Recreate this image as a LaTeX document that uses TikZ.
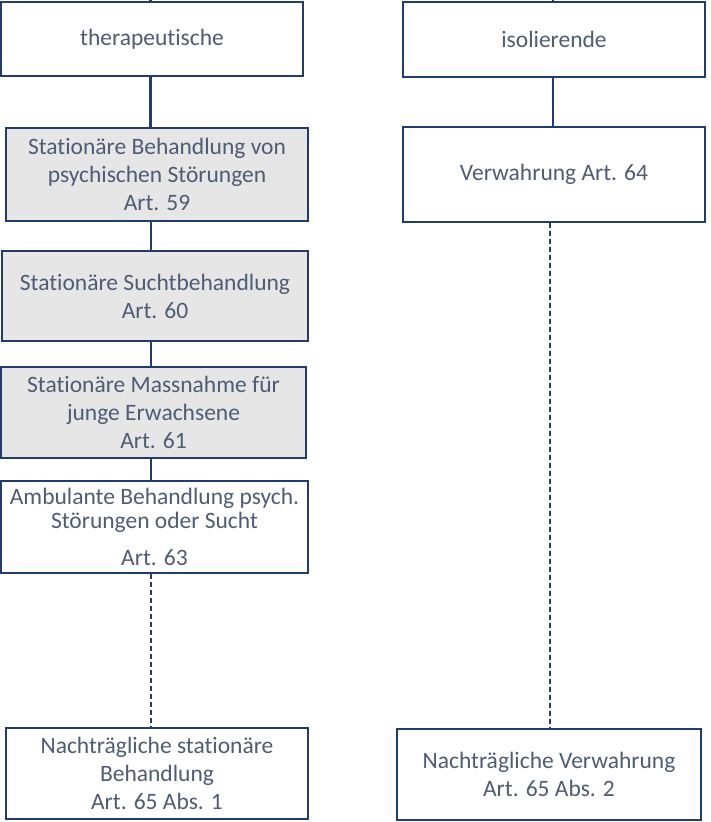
\documentclass[tikz,border=0pt]{standalone}
\usepackage{fontspec}
\setmainfont{Carlito}[Ligatures=NoCommon]
\definecolor{edge}{HTML}{223D6B}
\definecolor{txt}{HTML}{4E5C74}
\definecolor{shade}{HTML}{E6E6E6}
\begin{document}
\begin{tikzpicture}[x=1pt,y=-1pt,
  box/.style={draw=edge,line width=2.4pt,fill=white,text=txt,align=center,
    inner sep=0pt,font=\fontsize{23.5}{28}\selectfont},
  grey/.style={box,fill=shade},
  link/.style={draw=edge,line width=2.4pt},
  dlink/.style={draw=edge,line width=2.4pt,dash pattern=on 5pt off 3pt}]
\useasboundingbox (0,0) rectangle (710,822);
% left column
\node[box,minimum width=302pt,minimum height=74pt] (th) at (152,39) {therapeutische};
\node[grey,minimum width=302pt,minimum height=93pt] (b59) at (157,174.5) {Stationäre Behandlung von\\psychischen Störungen\\Art. 59};
\node[grey,minimum width=306pt,minimum height=90pt] (b60) at (155,296) {Stationäre Suchtbehandlung\\Art. 60};
\node[grey,minimum width=305pt,minimum height=91pt] (b61) at (153.5,412.5) {Stationäre Massnahme für\\junge Erwachsene\\Art. 61};
\node[box,minimum width=307pt,minimum height=92pt] (b63) at (154.5,527) {Ambulante Behandlung psych.\\[-4pt]Störungen oder Sucht\\[9pt]Art. 63};
\node[box,minimum width=302pt,minimum height=91pt] (b651) at (157,773.5) {Nachträgliche stationäre\\Behandlung\\Art. 65 Abs. 1};
% right column
\node[box,minimum width=302pt,minimum height=75pt] (iso) at (554,39.5) {isolierende};
\node[box,minimum width=302pt,minimum height=95pt] (v64) at (554,174.5) {Verwahrung Art. 64};
\node[box,minimum width=304pt,minimum height=91pt] (b652) at (549,774.5) {Nachträgliche Verwahrung\\Art. 65 Abs. 2};
% connectors
\coordinate (topL) at (150.5,0);
\coordinate (topR) at (553,0);
\coordinate (cl) at (151,0);
\coordinate (cr) at (550,0);
\draw[link] (topL) -- (th.north -| topL);
\draw[link] (th.south -| topL) -- (b59.north -| topL);
\draw[link] (b59.south -| cl) -- (b60.north -| cl);
\draw[link] (b60.south -| cl) -- (b61.north -| cl);
\draw[link] (b61.south -| cl) -- (b63.north -| cl);
\draw[dlink] (b63.south -| cl) -- (b651.north -| cl);
\draw[link] (topR) -- (iso.north -| topR);
\draw[link] (iso.south -| topR) -- (v64.north -| topR);
\draw[dlink] (v64.south -| cr) -- (b652.north -| cr);
\end{tikzpicture}
\end{document}
